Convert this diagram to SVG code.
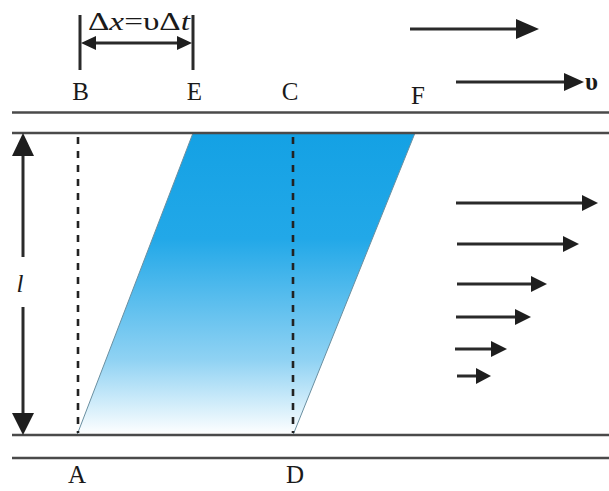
<svg xmlns="http://www.w3.org/2000/svg" width="609" height="491" viewBox="0 0 609 491">
<style>
.rail{stroke:#4a4a4a;stroke-width:2.6;fill:none}
.dash{stroke:#222;stroke-width:2.6;stroke-dasharray:7 7;fill:none}
.arr{stroke:#2a2a2a;stroke-width:3;fill:none}
.head{fill:#1e1e1e}
.lbl{font-family:'Liberation Serif','DejaVu Serif','Noto Serif',Tinos,'Times New Roman',Times,serif;font-size:25px;fill:#1a1a1a}
</style>
<defs>
<linearGradient id="g" x1="0" y1="0" x2="0" y2="1">
<stop offset="0" stop-color="#14a1e4"/>
<stop offset="0.35" stop-color="#22a8e8"/>
<stop offset="0.75" stop-color="#8fd2f3"/>
<stop offset="1" stop-color="#ffffff"/>
</linearGradient>
</defs>
<g id="fluid">
<polygon points="193,133 415,133 293,435 77,435" fill="url(#g)" stroke="#6a8fa0" stroke-width="1"/>
</g>
<g id="rails">
<line class="rail" x1="12" y1="112.5" x2="609" y2="112.5"/>
<line class="rail" x1="12" y1="133" x2="609" y2="133"/>
<line class="rail" x1="12" y1="435" x2="609" y2="435"/>
<line class="rail" x1="12" y1="458" x2="609" y2="458"/>
</g>
<g id="connectors">
<line class="dash" x1="78" y1="137" x2="78" y2="433"/>
<line class="dash" x1="293" y1="137" x2="293" y2="433"/>
<line class="arr" x1="23" y1="150" x2="23" y2="257"/>
<line class="arr" x1="23" y1="307" x2="23" y2="418"/>
<polygon class="head" points="23,133 12,156 34,156"/>
<polygon class="head" points="23,435 12,413 34,413"/>
<line class="arr" x1="80" y1="15" x2="80" y2="70" stroke-width="2.4"/>
<line class="arr" x1="193" y1="15" x2="193" y2="70" stroke-width="2.4"/>
<line class="arr" x1="90" y1="43" x2="183" y2="43"/>
<polygon class="head" points="81,43 96,36 96,50"/>
<polygon class="head" points="192,43 177,36 177,50"/>
<line class="arr" x1="410" y1="29" x2="520" y2="29"/>
<polygon class="head" points="539,29 516,19 516,39"/>
<line class="arr" x1="456" y1="82" x2="568" y2="82"/>
<polygon class="head" points="584,82 564,73 564,91"/>
<line class="arr" x1="456" y1="203" x2="585" y2="203"/>
<polygon class="head" points="598,203 582,195 582,211"/>
<line class="arr" x1="457" y1="244" x2="566" y2="244"/>
<polygon class="head" points="579,244 563,236 563,252"/>
<line class="arr" x1="457" y1="284" x2="534" y2="284"/>
<polygon class="head" points="547,284 531,276 531,292"/>
<line class="arr" x1="456" y1="317" x2="518" y2="317"/>
<polygon class="head" points="531,317 515,309 515,325"/>
<line class="arr" x1="455" y1="349" x2="494" y2="349"/>
<polygon class="head" points="507,349 491,341 491,357"/>
<line class="arr" x1="457" y1="376" x2="478" y2="376"/>
<polygon class="head" points="491,376 476,368 476,384"/>
</g>
<g id="labels">
<text class="lbl" x="88" y="30" textLength="102" lengthAdjust="spacingAndGlyphs">Δ<tspan font-style="italic">x</tspan>=υΔ<tspan font-style="italic">t</tspan></text>
<text class="lbl" x="80.5" y="100" text-anchor="middle">B</text>
<text class="lbl" x="194.5" y="100" text-anchor="middle">E</text>
<text class="lbl" x="290" y="100" text-anchor="middle">C</text>
<text class="lbl" x="418" y="104" text-anchor="middle">F</text>
<text class="lbl" x="77" y="483" text-anchor="middle">A</text>
<text class="lbl" x="295" y="483" text-anchor="middle">D</text>
<text class="lbl" x="20" y="292" text-anchor="middle" font-style="italic">l</text>
<text class="lbl" x="585" y="90" font-weight="bold">υ</text>
</g>
</svg>
